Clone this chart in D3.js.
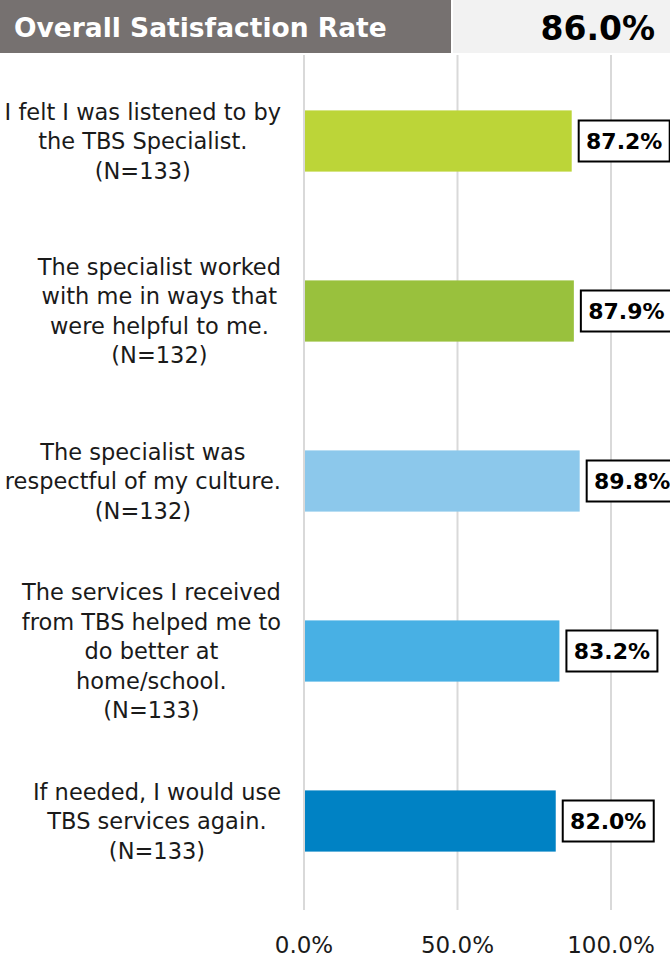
<!DOCTYPE html>
<html lang="en">
<head>
    <meta charset="UTF-8">
    <title>Overall Satisfaction Rate</title>
    <script src="https://d3js.org/d3.v7.min.js"></script>
    <style>
        body { margin: 0; background: #fff; overflow: hidden; }
        svg { display: block; font-family: "DejaVu Sans", sans-serif; }
        .grid-line { stroke: #d9d9d9; stroke-width: 2; }
        .cat-label { fill: #1a1a1a; font-size: 22.5px; }
        .tick-label { fill: #1a1a1a; font-size: 23px; }
        .value-label { fill: #000; font-size: 22px; font-weight: bold; }
    </style>
</head>
<body>
    <div id="chart"></div>
    <script>
        const width = 670;
        const height = 957;

        const headerTitle = "Overall Satisfaction Rate";
        const headerValue = "86.0%";

        const categories = [
            ["I felt I was listened to by", "the TBS Specialist.", "(N=133)"],
            ["The specialist worked", "with me in ways that", "were helpful to me.", "(N=132)"],
            ["The specialist was", "respectful of my culture.", "(N=132)"],
            ["The services I received", "from TBS helped me to", "do better at", "home/school.", "(N=133)"],
            ["If needed, I would use", "TBS services again.", "(N=133)"]
        ];
        const values = [0.872, 0.879, 0.898, 0.832, 0.820];
        const colors = ["#bcd538", "#99c13d", "#8cc8eb", "#48b0e4", "#0082c4"];
        const ticks = [0, 0.5, 1];

        const svg = d3.select("#chart")
            .append("svg")
            .attr("width", width)
            .attr("height", height);

        const x = d3.scaleLinear()
            .domain([0, 1])
            .range([304, 611]);

        const y = d3.scaleBand()
            .domain(d3.range(categories.length))
            .range([56, 906])
            .paddingInner(0.64)
            .paddingOuter(0.32);

        // grid lines
        svg.append("g")
            .selectAll("line")
            .data(ticks)
            .join("line")
            .attr("class", "grid-line")
            .attr("x1", d => x(d)).attr("x2", d => x(d))
            .attr("y1", 55).attr("y2", 910);

        // tick labels
        svg.append("g")
            .selectAll("text")
            .data(ticks)
            .join("text")
            .attr("class", "tick-label")
            .attr("x", d => x(d))
            .attr("y", 953)
            .attr("text-anchor", "middle")
            .text(d => d3.format(".1%")(d));

        // bars
        svg.append("g")
            .selectAll("rect")
            .data(values)
            .join("rect")
            .attr("x", x(0) + 1)
            .attr("y", (d, i) => y(i))
            .attr("width", d => x(d) - x(0) - 1)
            .attr("height", y.bandwidth())
            .attr("fill", (d, i) => colors[i]);

        // value labels with boxes
        const boxW = 91, boxH = 41;
        const vals = svg.append("g")
            .selectAll("g")
            .data(values)
            .join("g")
            .attr("transform", (d, i) => `translate(${x(d) + 7},${y(i) + y.bandwidth() / 2})`);
        vals.append("rect")
            .attr("x", 0).attr("y", -boxH / 2)
            .attr("width", boxW).attr("height", boxH)
            .attr("fill", "#fff")
            .attr("stroke", "#000")
            .attr("stroke-width", 2);
        vals.append("text")
            .attr("class", "value-label")
            .attr("x", boxW / 2)
            .attr("y", 8)
            .attr("text-anchor", "middle")
            .text(d => d3.format(".1%")(d));

        // category labels: centred lines, block right-aligned next to the axis
        const lineH = 29.5;
        const labelRight = 281;
        const labels = svg.append("g")
            .selectAll("text")
            .data(categories)
            .join("text")
            .attr("class", "cat-label")
            .attr("text-anchor", "middle");
        labels.selectAll("tspan")
            .data(d => d)
            .join("tspan")
            .attr("x", 0)
            .attr("y", (d, j) => j * lineH)
            .text(d => d);
        labels.each(function(d, i) {
            let maxW = 0;
            d3.select(this).selectAll("tspan").each(function() {
                maxW = Math.max(maxW, this.getComputedTextLength());
            });
            const cy = y(i) + y.bandwidth() / 2 - (d.length - 1) * lineH / 2 + 8;
            d3.select(this).attr("transform", `translate(${labelRight - maxW / 2},${cy})`);
        });

        // header
        svg.append("rect")
            .attr("x", 0).attr("y", 0)
            .attr("width", 451).attr("height", 53)
            .attr("fill", "#767170");
        svg.append("rect")
            .attr("x", 453).attr("y", 0)
            .attr("width", width - 453).attr("height", 53)
            .attr("fill", "#f2f2f2");
        svg.append("text")
            .attr("x", 14).attr("y", 37)
            .attr("fill", "#fff")
            .attr("font-size", 26.5)
            .attr("font-weight", "bold")
            .text(headerTitle);
        svg.append("text")
            .attr("x", 655).attr("y", 40)
            .attr("text-anchor", "end")
            .attr("fill", "#000")
            .attr("font-size", 33)
            .attr("font-weight", "bold")
            .text(headerValue);
    </script>
</body>
</html>
